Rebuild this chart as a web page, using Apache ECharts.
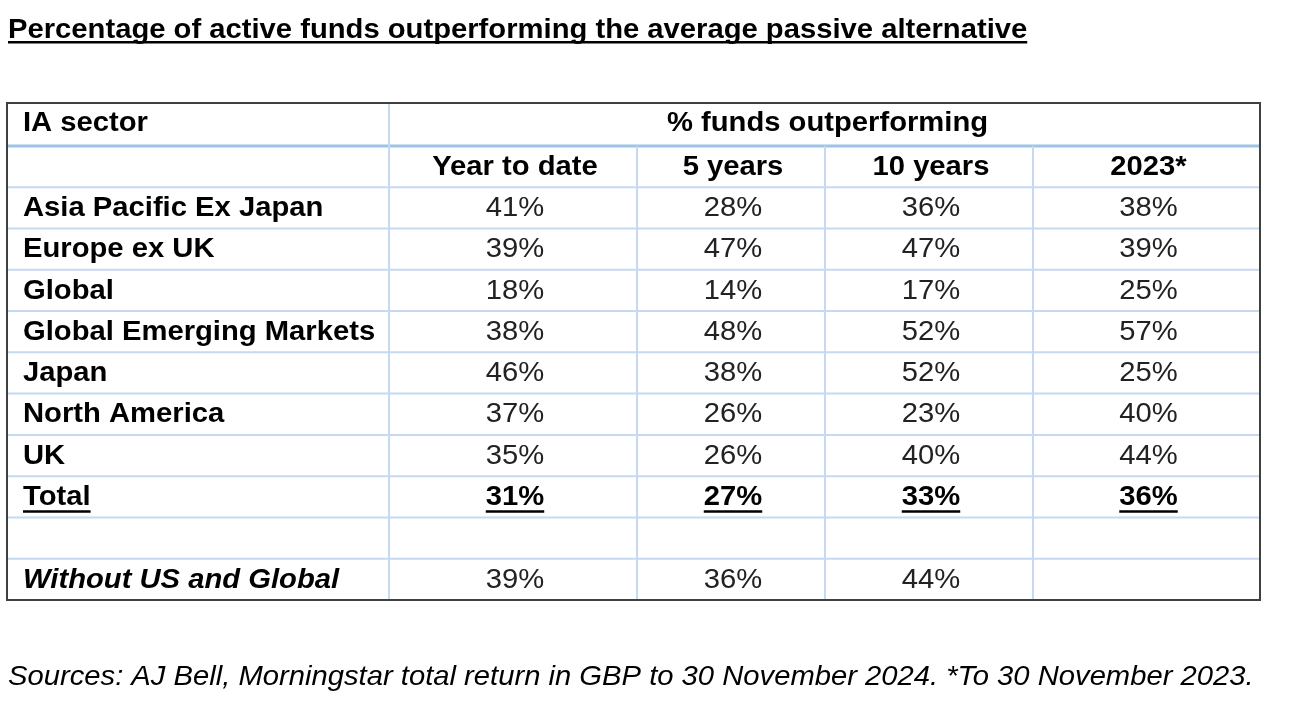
<!DOCTYPE html>
<html>
<head>
<meta charset="utf-8">
<script src="https://cdn.jsdelivr.net/npm/echarts@6/dist/echarts.min.js"></script>
<style>
html,body{margin:0;padding:0;background:#fff;}
#main{width:1294px;height:708px;}
</style>
</head>
<body>
<div id="main"></div>
<script>
// ---- data ----
const titleText = 'Percentage of active funds outperforming the average passive alternative';
const footerText = 'Sources: AJ Bell, Morningstar total return in GBP to 30 November 2024. *To 30 November 2023.';
const sectorHeader = 'IA sector';
const groupHeader = '% funds outperforming';
const periods = ['Year to date', '5 years', '10 years', '2023*'];
const sectors = ['Asia Pacific Ex Japan', 'Europe ex UK', 'Global', 'Global Emerging Markets', 'Japan', 'North America', 'UK'];
const yearToDate = [41, 39, 18, 38, 46, 37, 35];
const fiveYears = [28, 47, 14, 48, 38, 26, 26];
const tenYears = [36, 47, 17, 52, 52, 23, 40];
const year2023 = [38, 39, 25, 57, 25, 40, 44];
const totalLabel = 'Total';
const totalValues = [31, 27, 33, 36];
const withoutLabel = 'Without US and Global';
const withoutValues = [39, 36, 44, null];

// ---- layout (not data) ----
const FAMILY = '"Liberation Sans", Arial, sans-serif';
const FS = 28;
const SX = 1.043;
const COL_EDGES = [0, 382, 630, 818, 1026, 1253];
const HEAD_H = 43, ROW_H = 41.27;
const TABLE_H = HEAD_H + 11 * ROW_H;
const LINE_LIGHT = '#c6d9f1';
const LINE_HEAD = '#9dc3e6';

const measureCtx = document.createElement('canvas').getContext('2d');
function textWidth(t, font) { measureCtx.font = font; return measureCtx.measureText(t).width * SX; }

const seriesCols = [yearToDate, fiveYears, tenYears, year2023];
const rowIndex = Array.from({length: 12}, (_, i) => [i]);

function pct(v) { return v == null ? '' : v + '%'; }

function renderItem(params, api) {
  const i = api.value(0);
  const top = i === 0 ? 0 : HEAD_H + (i - 1) * ROW_H;
  const bottom = HEAD_H + i * ROW_H;
  const P = (x, y) => api.coord([x, y]);
  const children = [];
  if (i < 11) {
    const a = P(COL_EDGES[0], bottom), b = P(COL_EDGES[5], bottom);
    children.push({type: 'line', shape: {x1: a[0] + 1, y1: a[1], x2: b[0] - 1, y2: b[1]},
      style: {stroke: i === 0 ? LINE_HEAD : LINE_LIGHT, lineWidth: i === 0 ? 3 : 2}});
  }
  const edges = i === 0 ? [1] : [1, 2, 3, 4];
  edges.forEach(e => {
    const a = P(COL_EDGES[e], top), b = P(COL_EDGES[e], bottom);
    children.push({type: 'line', shape: {x1: a[0], y1: a[1] + (i === 0 ? 1 : 0), x2: b[0], y2: b[1] - (i === 11 ? 1 : 0)},
      style: {stroke: LINE_LIGHT, lineWidth: 2}});
  });
  const cy = (P(0, top)[1] + P(0, bottom)[1]) / 2 + (i === 0 ? -1.5 : 0.5);
  function addText(text, x, align, font, fill, underline) {
    if (!text) return;
    children.push({type: 'text', x: x, y: cy, scaleX: SX,
      style: {text: text, x: 0, y: 0, font: font, fill: fill,
      align: align, verticalAlign: 'middle', textAlign: align, textVerticalAlign: 'middle'}});
    if (underline) {
      const w = textWidth(text, font);
      const x0 = align === 'center' ? x - w / 2 : x;
      children.push({type: 'rect', shape: {x: x0, y: cy + 13, width: w, height: 2.5}, style: {fill: '#000'}});
    }
  }
  const boldF = 'bold ' + FS + 'px ' + FAMILY;
  const regF = FS + 'px ' + FAMILY;
  const labelX = P(COL_EDGES[0], 0)[0] + 16;
  const colCenter = c => (P(COL_EDGES[c + 1], 0)[0] + P(COL_EDGES[c + 2], 0)[0]) / 2 + 2;
  if (i === 0) {
    addText(sectorHeader, labelX, 'left', boldF, '#000');
    addText(groupHeader, (P(COL_EDGES[1], 0)[0] + P(COL_EDGES[5], 0)[0]) / 2 + 3, 'center', boldF, '#000');
  } else if (i === 1) {
    periods.forEach((p, c) => addText(p, colCenter(c), 'center', boldF, '#000'));
  } else if (i >= 2 && i <= 8) {
    const r = i - 2;
    addText(sectors[r], labelX, 'left', boldF, '#000');
    seriesCols.forEach((col, c) => addText(pct(col[r]), colCenter(c), 'center', regF, '#222'));
  } else if (i === 9) {
    addText(totalLabel, labelX, 'left', boldF, '#000', true);
    totalValues.forEach((v, c) => addText(pct(v), colCenter(c), 'center', boldF, '#000', true));
  } else if (i === 11) {
    addText(withoutLabel, labelX, 'left', 'italic bold ' + FS + 'px ' + FAMILY, '#000');
    withoutValues.forEach((v, c) => addText(pct(v), colCenter(c), 'center', regF, '#222'));
  }
  return {type: 'group', children: children};
}

const titleFont = 'bold 28px ' + FAMILY;
const titleW = textWidth(titleText, titleFont);

const chart = echarts.init(document.getElementById('main'), null, {renderer: 'canvas'});
chart.setOption({
  animation: false,
  backgroundColor: '#fff',
  grid: {left: 7, top: 103, width: 1253, height: TABLE_H, show: true, borderColor: '#404040', borderWidth: 2, backgroundColor: '#fff'},
  xAxis: {type: 'value', min: 0, max: COL_EDGES[5], show: false},
  yAxis: {type: 'value', min: 0, max: TABLE_H, inverse: true, show: false},
  graphic: [
    {type: 'text', x: 8, y: 30, scaleX: SX, style: {text: titleText, x: 0, y: 0, font: titleFont, fill: '#000', verticalAlign: 'middle', textVerticalAlign: 'middle'}},
    {type: 'rect', shape: {x: 8, y: 41, width: titleW, height: 2.5}, style: {fill: '#000'}},
    {type: 'text', x: 8, y: 677, scaleX: SX, style: {text: footerText, x: 0, y: 0, font: 'italic 28px ' + FAMILY, fill: '#000', verticalAlign: 'middle', textVerticalAlign: 'middle'}}
  ],
  series: [{type: 'custom', renderItem: renderItem, data: rowIndex, clip: false, silent: true}]
});
</script>
</body>
</html>
